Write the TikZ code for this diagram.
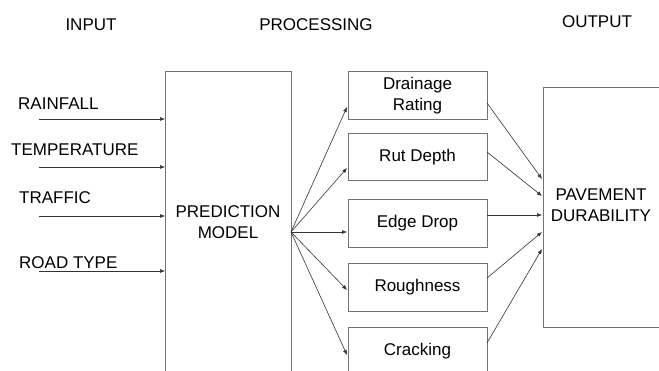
\documentclass[tikz,border=0pt]{standalone}
\usepackage{fontspec}
\setmainfont{Liberation Sans}
\usetikzlibrary{arrows.meta}
\begin{document}
\begin{tikzpicture}[x=1pt,y=-1pt,
  txt/.style={font=\fontsize{17}{21}\selectfont, inner sep=0pt, align=center},
  box/.style={draw=black!55, line width=0.8pt, fill=white},
  arr/.style={draw=black!80, line width=0.6pt, -{Latex[length=5pt,width=4pt]}}]
\useasboundingbox (0,0) rectangle (659,371);
% headers
\node[txt] (hin) at (91,25) {INPUT};
\node[txt] (hpr) at (316,25) {PROCESSING};
\node[txt] (hout) at (597,22) {OUTPUT};
% prediction model box
\path[box] (165,71) rectangle (291,372);
\node[txt] (pm) at (228,222) {PREDICTION\\MODEL};
\coordinate (fan) at (291,232);
% output box
\path[box] (543,87) rectangle (660,327);
\node[txt] (pd) at (601,205) {PAVEMENT\\DURABILITY};
% processing boxes
\path[box] (348,71) rectangle (487,119);
\node[txt] (b1) at (417.5,96) {Drainage\\Rating};
\path[box] (348,133) rectangle (487,180);
\node[txt] (b2) at (417.5,157) {Rut Depth};
\path[box] (348,199) rectangle (487,247);
\node[txt] (b3) at (417.5,223) {Edge Drop};
\path[box] (348,263) rectangle (487,311);
\node[txt] (b4) at (417.5,287) {Roughness};
\path[box] (348,327) rectangle (487,372);
\node[txt] (b5) at (417.5,351) {Cracking};
% input labels and arrows
\node[txt,anchor=west] (l1) at (18,104) {RAINFALL};
\node[txt,anchor=west] (l2) at (11,150) {TEMPERATURE};
\node[txt,anchor=west] (l3) at (19,198) {TRAFFIC};
\node[txt,anchor=west] (l4) at (19,263) {ROAD TYPE};
\coordinate (s1) at (39,119); \coordinate (e1) at (165,119);
\coordinate (s2) at (39,167); \coordinate (e2) at (165,167);
\coordinate (s3) at (39,216); \coordinate (e3) at (165,216);
\coordinate (s4) at (39,271); \coordinate (e4) at (165,271);
\draw[arr] (s1) -- (e1);
\draw[arr] (s2) -- (e2);
\draw[arr] (s3) -- (e3);
\draw[arr] (s4) -- (e4);
% fan arrows
\coordinate (t1) at (347,107);
\coordinate (t2) at (347,168);
\coordinate (t3) at (347,232);
\coordinate (t4) at (347,290);
\coordinate (t5) at (347,355);
\foreach \i in {1,...,5} \draw[arr] (fan) -- (t\i);
% output arrows
\coordinate (o1) at (487,103); \coordinate (p1) at (542,179);
\coordinate (o2) at (487,152); \coordinate (p2) at (542,196);
\coordinate (o3) at (487,215); \coordinate (p3) at (542,215);
\coordinate (o4) at (487,278); \coordinate (p4) at (542,232);
\coordinate (o5) at (487,343); \coordinate (p5) at (542,249);
\foreach \i in {1,...,5} \draw[arr] (o\i) -- (p\i);
\end{tikzpicture}
\end{document}
